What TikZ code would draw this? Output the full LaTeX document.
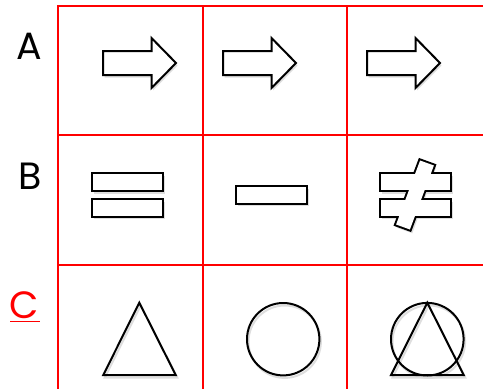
\documentclass[tikz,border=0pt]{standalone}
\usepackage{fontspec}
\setmainfont{Poppins}
\begin{document}
\begin{tikzpicture}[x=1pt,y=-1pt,
  grid/.style      ={draw=red, line width=2pt},
  symb/.style      ={draw=black, line width=2pt, fill=white, line join=miter},
  symbthick/.style ={draw=black, line width=4pt, line join=miter},
  symbline/.style  ={draw=black, line width=2pt, line join=miter},
  shadowfill/.style={fill=black!13, draw=none},
  shadowline/.style={draw=black!13, line width=2pt},
  lbl/.style       ={font=\fontsize{38}{40}\selectfont, inner sep=0pt}]
  \useasboundingbox (0,0) rectangle (483,389);

  % ---------------- table grid ----------------
  \draw[grid] (483,6) -- (58,6) -- (58,389);
  \draw[grid] (58,135) -- (483,135);  \draw[grid] (58,265) -- (483,265);
  \draw[grid] (203,6) -- (203,389);   \draw[grid] (347,6) -- (347,389);

  % ---------------- row labels ----------------
  \node[lbl] (rowA) at (29,46.5){A};
  \node[lbl] (rowB) at (29.8,175.8){B};
  \node[lbl,red] (rowC) at (23.7,305.5){C};
  \draw[red, line width=1pt] (10,321.5) -- (40,321.5);   % underline of C

  % ---------------- row A : three block arrows ----------------
  \begin{scope}[shift={(1.5,2.5)}]
    \fill[shadowfill] (103,51) -- (151.5,51) -- (151.5,38) -- (176,63) -- (151.5,88) -- (151.5,75) -- (103,75) -- cycle;
    \fill[shadowfill] (223,51) -- (271.5,51) -- (271.5,38) -- (296,63) -- (271.5,88) -- (271.5,75) -- (223,75) -- cycle;
    \fill[shadowfill] (367,51) -- (415.5,51) -- (415.5,38) -- (440,63) -- (415.5,88) -- (415.5,75) -- (367,75) -- cycle;
  \end{scope}
  \draw[symb] (103,51) -- (151.5,51) -- (151.5,38) -- (176,63) -- (151.5,88) -- (151.5,75) -- (103,75) -- cycle;
  \draw[symb] (223,51) -- (271.5,51) -- (271.5,38) -- (296,63) -- (271.5,88) -- (271.5,75) -- (223,75) -- cycle;
  \draw[symb] (367,51) -- (415.5,51) -- (415.5,38) -- (440,63) -- (415.5,88) -- (415.5,75) -- (367,75) -- cycle;

  % ---------------- row B : equal, minus, not equal ----------------
  \begin{scope}[shift={(1.5,2.5)}]
    \fill[shadowfill] (92,173.3) rectangle (163,191);
    \fill[shadowfill] (92,199) rectangle (163,216.7);
    \fill[shadowfill] (236,186.3) rectangle (307,203.7);
    \fill[shadowfill] (380,173.3) rectangle (451,191);
    \fill[shadowfill] (380,199) rectangle (451,216.7);
    \fill[shadowfill] (419.2,159.2) -- (434.8,164.8) -- (410.8,230.8) -- (395.2,225.2) -- cycle;
  \end{scope}
  \draw[symb] (92,173.3) rectangle (163,191);
  \draw[symb] (92,199) rectangle (163,216.7);
  \draw[symb] (236,186.3) rectangle (307,203.7);
  % not equal: thick outline, then white fill keeps only the outer edge
  \draw[symbthick] (381,174.3) rectangle (450,190);
  \draw[symbthick] (381,200) rectangle (450,215.7);
  \draw[symbthick] (420.1,160.5) -- (433.9,165.5) -- (409.9,229.5) -- (396.1,224.5) -- cycle;
  \fill[white] (381,174.3) rectangle (450,190);
  \fill[white] (381,200) rectangle (450,215.7);
  \fill[white] (420.1,160.5) -- (433.9,165.5) -- (409.9,229.5) -- (396.1,224.5) -- cycle;

  % ---------------- row C : triangle, circle, both ----------------
  \begin{scope}[shift={(1.5,2.5)}]
    \draw[shadowline] (139.3,302.7) -- (175.7,375) -- (103.3,375) -- cycle;
    \draw[shadowline] (283.2,339.2) circle (36.2);
    \draw[shadowline] (427.3,339.2) circle (36.3);
    \draw[shadowline] (427.3,302.7) -- (463.7,375) -- (391,375) -- cycle;
  \end{scope}
  \draw[symbline] (139.3,302.7) -- (175.7,375) -- (103.3,375) -- cycle;
  \draw[symbline] (283.2,339.2) circle (36.2);
  \draw[symbline] (427.3,339.2) circle (36.3);
  \draw[symbline] (427.3,302.7) -- (463.7,375) -- (391,375) -- cycle;
\end{tikzpicture}
\end{document}
